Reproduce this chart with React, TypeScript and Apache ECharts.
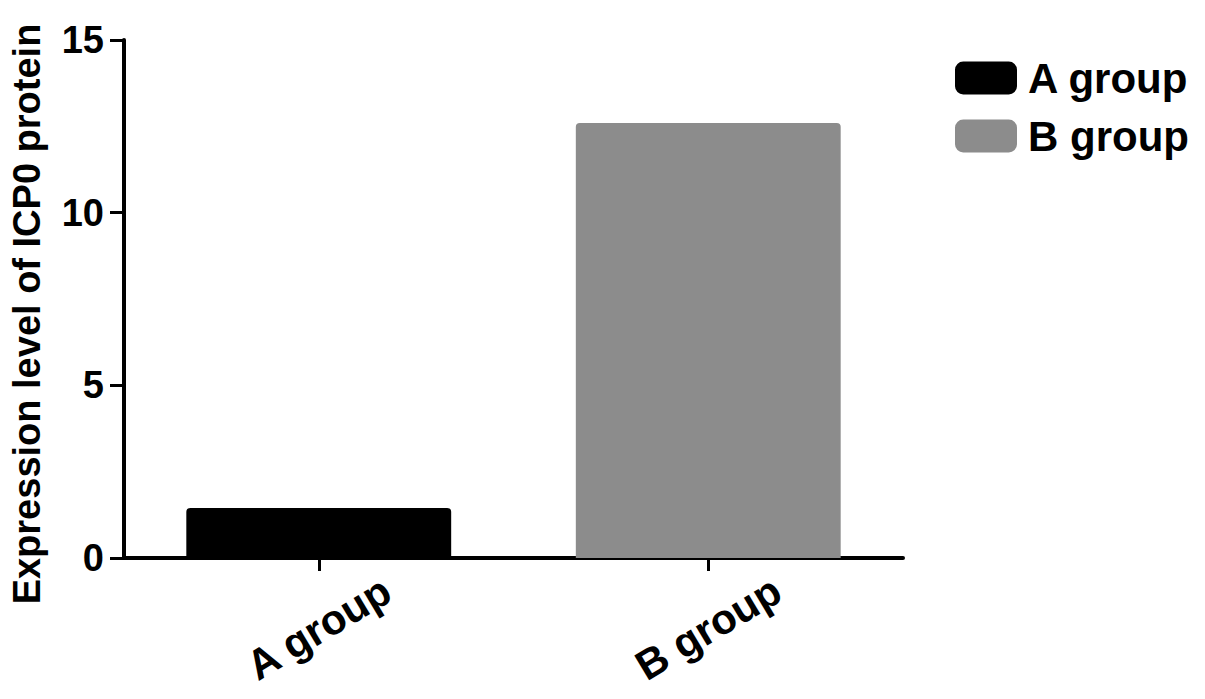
import React, { useEffect, useRef } from "react";
import * as echarts from "echarts";

const categories = ["A group", "B group"];
const seriesNames = ["A group", "B group"];
const aValues = [1.45, "-"];
const bValues = ["-", 12.6];
const yTicks = { min: 0, max: 15, interval: 5 };

const FONT = "'Liberation Sans', Arial, sans-serif";

export default function App() {
  const ref = useRef<HTMLDivElement>(null);
  useEffect(() => {
    if (!ref.current) return;
    const chart = echarts.init(ref.current, null, { renderer: "svg" });
    chart.setOption({
      animation: false,
      backgroundColor: "#ffffff",
      textStyle: { fontFamily: FONT },
      legend: {
        orient: "vertical",
        left: 950,
        top: 52,
        itemWidth: 62,
        itemHeight: 33,
        itemGap: 16,
        icon: "roundRect",
        textStyle: { fontSize: 42, fontWeight: "bold", color: "#000", fontFamily: FONT, padding: [0, 0, 0, 6] },
        data: seriesNames,
      },
      grid: {
        left: 124,
        right: 302,
        top: 40,
        bottom: 141,
        containLabel: false,
        outerBoundsMode: "none",
      },
      xAxis: {
        type: "category",
        data: categories,
        axisLine: { lineStyle: { color: "#000", width: 4 } },
        axisTick: { show: true, alignWithLabel: true, length: 13, lineStyle: { color: "#000", width: 3 } },
        axisLabel: {
          rotate: 31,
          align: "center",
          verticalAlign: "middle",
          margin: 70,
          fontSize: 42,
          lineHeight: 44,
          fontWeight: "bold",
          color: "#000",
          fontFamily: FONT,
        },
      },
      yAxis: {
        type: "value",
        min: yTicks.min,
        max: yTicks.max,
        interval: yTicks.interval,
        name: "Expression level of ICP0 protein",
        nameLocation: "middle",
        nameGap: 78,
        nameTextStyle: { fontSize: 38, fontWeight: "bold", color: "#000", fontFamily: FONT, padding: [0, 30, 0, 0] },
        splitLine: { show: false },
        axisLine: { show: true, lineStyle: { color: "#000", width: 4 } },
        axisTick: { show: true, length: 14, lineStyle: { color: "#000", width: 3 } },
        axisLabel: { margin: 20, fontSize: 38, fontWeight: "bold", color: "#000", fontFamily: FONT },
      },
      series: [
        {
          name: seriesNames[0],
          type: "bar",
          stack: "s",
          barWidth: "68%",
          data: aValues,
          itemStyle: { color: "#000000", borderRadius: [4, 4, 0, 0] },
        },
        {
          name: seriesNames[1],
          type: "bar",
          stack: "s",
          barWidth: "68%",
          data: bValues,
          itemStyle: { color: "#8c8c8c", borderRadius: [4, 4, 0, 0] },
        },
      ],
    });
    return () => chart.dispose();
  }, []);
  return <div ref={ref} style={{ width: 1205, height: 699, position: "absolute", left: 0, top: 0 }} />;
}
